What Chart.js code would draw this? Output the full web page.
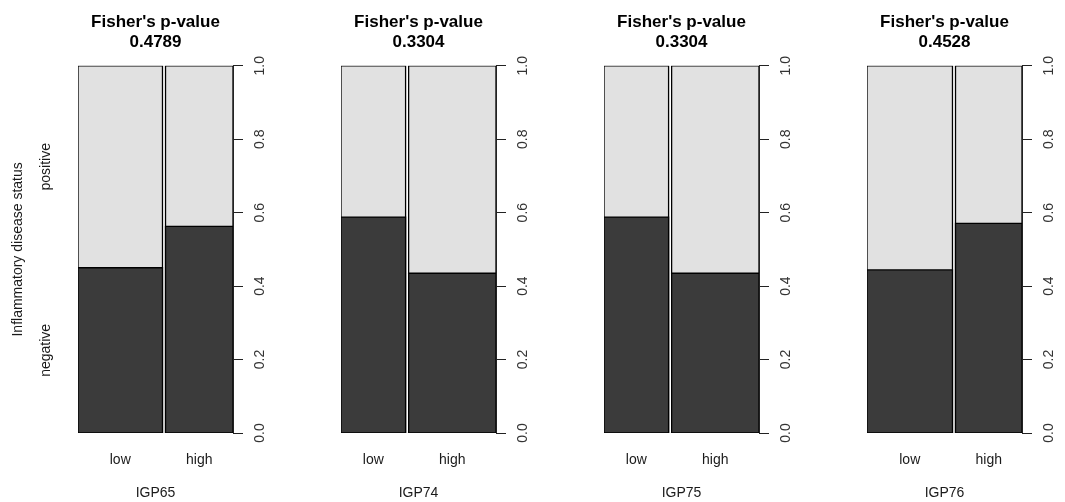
<!DOCTYPE html>
<html>
<head>
<meta charset="utf-8">
<script src="https://cdn.jsdelivr.net/npm/chart.js@4"></script>
<style>
    body { margin: 0; background: #fff; width: 1065px; height: 502px; position: relative; overflow: hidden; }
    canvas { position: absolute; top: 0; }
</style>
</head>
<body>
<div id="wrap"></div>
<script>
    // 資料：四個基因分組，各自的 low / high 寬度比例與 negative 比例
    const groups = ['IGP65', 'IGP74', 'IGP75', 'IGP76'];
    const pValues = ['0.4789', '0.3304', '0.3304', '0.4528'];
    const levels = ['low', 'high'];
    const statusLabels = ['negative', 'positive'];
    const lowShare = [0.556, 0.425, 0.425, 0.5625];   // low 欄寬度
    const negLow = [0.45, 0.588, 0.588, 0.444];       // low 欄 negative 比例
    const negHigh = [0.5625, 0.435, 0.435, 0.571];    // high 欄 negative 比例
    const yTicks = [0, 0.2, 0.4, 0.6, 0.8, 1.0];

    const GAP = 0.02;
    const FONT = 'Liberation Sans, Arial, Helvetica, sans-serif';
    const DARK = '#3b3b3b';
    const LIGHT = '#e1e1e1';
    const TEXT = '#1a1a1a';

    const rect = (x0, x1, y0, y1) => [
        { x: x0, y: y0 }, { x: x0, y: y1 }, { x: x1, y: y1 }, { x: x1, y: y0 }, { x: x0, y: y0 }
    ];

    // 以封閉折線 + fill:'shape' 畫出每個矩形
    const rectDataset = (pts, color) => ({
        data: pts,
        backgroundColor: color,
        borderColor: '#000',
        borderWidth: 1.3,
        fill: 'shape',
        pointRadius: 0,
        tension: 0,
        borderJoinStyle: 'miter',
        xAxisID: 'x',
        yAxisID: 'y'
    });

    const wrap = document.getElementById('wrap');

    groups.forEach((name, i) => {
        const canvas = document.createElement('canvas');
        canvas.width = 280;
        canvas.height = 502;
        canvas.style.left = (263 * i) + 'px';
        wrap.appendChild(canvas);

        const w1 = lowShare[i];
        const w2 = 1 - w1;
        const bars = [[0, w1], [w1 + GAP, w1 + GAP + w2]];
        const negs = [negLow[i], negHigh[i]];
        const centers = bars.map(b => (b[0] + b[1]) / 2);

        // 深色 negative 放前面，畫在最上層
        const datasets = [];
        bars.forEach((b, k) => datasets.push(rectDataset(rect(b[0], b[1], 0, negs[k]), DARK)));
        bars.forEach(b => datasets.push(rectDataset(rect(b[0], b[1], 0, 1), LIGHT)));

        const scales = {
            x: {
                type: 'linear', min: 0, max: 1 + GAP,
                grid: { display: false, drawTicks: false },
                border: { display: false },
                afterBuildTicks: ax => { ax.ticks = centers.map(v => ({ value: v })); },
                ticks: {
                    callback: (v, k) => levels[k],
                    autoSkip: false, maxRotation: 0, padding: 19,
                    font: { family: FONT, size: 14 }, color: TEXT
                },
                title: {
                    display: true, text: name,
                    font: { family: FONT, size: 14 }, color: TEXT,
                    padding: { top: 0, bottom: 0 }
                },
                afterFit: ax => { ax.height = 69; }
            },
            y: {
                type: 'linear', position: 'right', min: 0, max: 1,
                afterBuildTicks: ax => { ax.ticks = yTicks.map(v => ({ value: v })); },
                ticks: {
                    callback: v => v.toFixed(1),
                    minRotation: 90, maxRotation: 90, crossAlign: 'center', padding: 7,
                    font: { family: FONT, size: 14 }, color: '#333'
                },
                grid: { drawOnChartArea: false, tickLength: 10, color: '#222' },
                border: { display: true, color: '#222' },
                afterFit: ax => { ax.width = 47; }
            }
        };

        if (i === 0) {
            scales.yl = {
                type: 'linear', position: 'left', min: 0, max: 1,
                afterBuildTicks: ax => {
                    ax.ticks = [negLow[0] / 2, (negLow[0] + 1) / 2].map(v => ({ value: v }));
                },
                ticks: {
                    callback: (v, k) => statusLabels[k],
                    minRotation: 90, maxRotation: 90, crossAlign: 'center', padding: 5,
                    font: { family: FONT, size: 14 }, color: TEXT
                },
                grid: { display: false, drawTicks: false },
                border: { display: false },
                title: {
                    display: true, text: 'Inflammatory disease status',
                    font: { family: FONT, size: 14 }, color: TEXT,
                    padding: { top: 10, bottom: 0 }
                },
                afterFit: ax => { ax.width = 78; }
            };
        }

        new Chart(canvas.getContext('2d'), {
            type: 'line',
            data: { datasets },
            options: {
                responsive: false,
                animation: false,
                layout: { padding: { left: i === 0 ? 0 : 78, right: 0, top: 0, bottom: 0 } },
                plugins: {
                    legend: { display: false },
                    tooltip: { enabled: false },
                    title: {
                        display: true,
                        text: ["Fisher's p-value", pValues[i]],
                        fullSize: false,
                        color: '#000',
                        font: { family: FONT, size: 17, weight: 'bold', lineHeight: 1.2 },
                        padding: { top: 12, bottom: 13 }
                    }
                },
                scales
            }
        });
    });
</script>
</body>
</html>
